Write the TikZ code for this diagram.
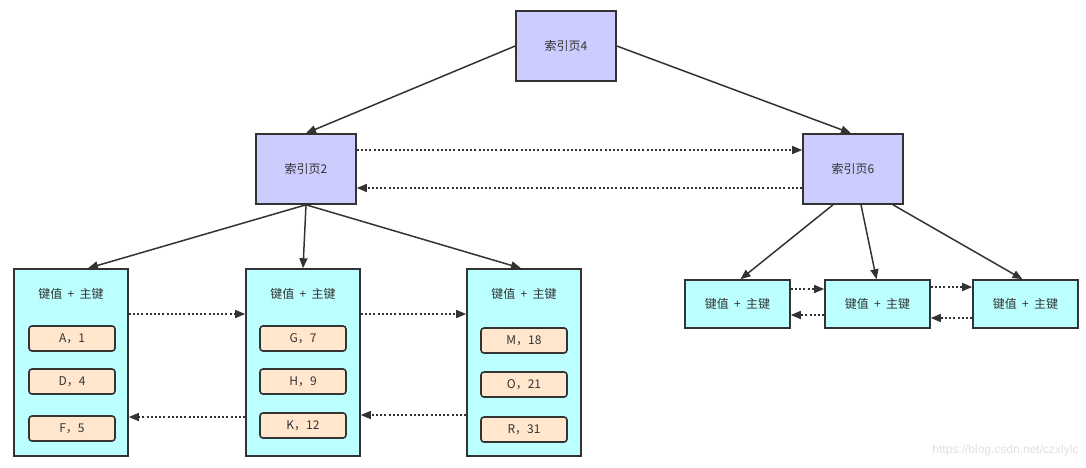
\documentclass[tikz,border=0pt]{standalone}
\usepackage{fontspec}
\usepackage{xcolor}
\usetikzlibrary{arrows.meta}
\setmainfont{Noto Sans CJK SC}
\newfontfamily\wmfont{Liberation Sans}
\definecolor{line_dark}{HTML}{333333}
\definecolor{idx_fill}{HTML}{CCCCFF}
\definecolor{leaf_fill}{HTML}{BBFFFF}
\definecolor{rec_fill}{HTML}{FFE6CC}
\tikzset{
    box/.style={draw=line_dark,line width=1.6pt,text=line_dark,font=\fontsize{12}{14}\selectfont,inner sep=0pt},
    idxpage/.style={box,fill=idx_fill,minimum width=100pt,minimum height=70pt},
    leafpage/.style={box,fill=leaf_fill,minimum width=114pt,minimum height=187pt},
    leafsmall/.style={box,fill=leaf_fill,minimum width=105pt,minimum height=48pt},
    record/.style={box,fill=rec_fill,rounded corners=3pt,minimum width=86pt,minimum height=25pt},
    header/.style={text=line_dark,font=\fontsize{12}{14}\selectfont,inner sep=0pt},
    link/.style={-{Triangle[length=10pt,width=8pt]},line width=1.5pt,draw=line_dark},
    sibling/.style={-{Triangle[length=10pt,width=8pt]},line width=1.5pt,draw=line_dark,dash pattern=on 2pt off 2.2pt},
}
\begin{document}
\begin{tikzpicture}[x=1pt,y=-1pt]
  \useasboundingbox (0,0) rectangle (1086,467);
  % index pages
  \node[idxpage] (p4) at (566,46) {索引页4};
  \node[idxpage] (p2) at (306,169) {索引页2};
  \node[idxpage] (p6) at (853,169) {索引页6};
  % leaf pages under p2
  \node[leafpage] (la) at (71,362.5) {};
  \node[leafpage] (lb) at (303,362.5) {};
  \node[leafpage] (lc) at (524,362.5) {};
  \node[header] (ha) at (71,294) {键值\ \ +\ \ 主键};
  \node[header] (hb) at (303,294) {键值\ \ +\ \ 主键};
  \node[header] (hc) at (524,294) {键值\ \ +\ \ 主键};
  \node[record] (ra1) at (72,338.5) {A，1};
  \node[record] (ra2) at (72,381.5) {D，4};
  \node[record] (ra3) at (72,428.5) {F，5};
  \node[record] (rb1) at (303,338.5) {G，7};
  \node[record] (rb2) at (303,381.5) {H，9};
  \node[record] (rb3) at (303,425.5) {K，12};
  \node[record] (rc1) at (524,340.5) {M，18};
  \node[record] (rc2) at (524,384.5) {O，21};
  \node[record] (rc3) at (524,429.5) {R，31};
  % leaf pages under p6
  \node[leafsmall] (ld) at (737.5,304) {键值\ \ +\ \ 主键};
  \node[leafsmall] (le) at (877.5,304) {键值\ \ +\ \ 主键};
  \node[leafsmall] (lf) at (1025.5,304) {键值\ \ +\ \ 主键};
  % tree links
  \draw[link] (p4.west) -- (p2.north);
  \draw[link] (p4.east) -- ([xshift=-2pt]p6.north);
  \draw[link] (p2.south) -- ([xshift=17pt]la.north);
  \draw[link] (p2.south) -- (lb.north);
  \draw[link] (p2.south) -- ([xshift=-3pt]lc.north);
  \draw[link] ([xshift=-20pt]p6.south) -- ([xshift=3pt]ld.north);
  \draw[link] ([xshift=8pt]p6.south) -- ([xshift=-1pt]le.north);
  \draw[link] ([xshift=40pt]p6.south) -- ([xshift=-3pt]lf.north);
  % sibling pointers
  \draw[sibling] ([yshift=19pt]p2.east) -- ([yshift=19pt]p6.west);
  \draw[sibling] ([yshift=-19pt]p6.west) -- ([yshift=-19pt]p2.east);
  \draw[sibling] (la.east |- 0,314) -- (lb.west |- 0,314);
  \draw[sibling] (lb.east |- 0,314) -- (lc.west |- 0,314);
  \draw[sibling] (lb.west |- 0,417) -- (la.east |- 0,417);
  \draw[sibling] (lc.west |- 0,415) -- (lb.east |- 0,415);
  \draw[sibling] (ld.east |- 0,289) -- (le.west |- 0,289);
  \draw[sibling] (le.west |- 0,315) -- (ld.east |- 0,315);
  \draw[sibling] (le.east |- 0,287) -- (lf.west |- 0,287);
  \draw[sibling] (lf.west |- 0,318) -- (le.east |- 0,318);
  % watermark
  \node[text=black!12,font=\wmfont\fontsize{12}{14}\selectfont,anchor=east] (mark) at (1082,450) {https://blog.csdn.net/czxlylc};
\end{tikzpicture}
\end{document}
